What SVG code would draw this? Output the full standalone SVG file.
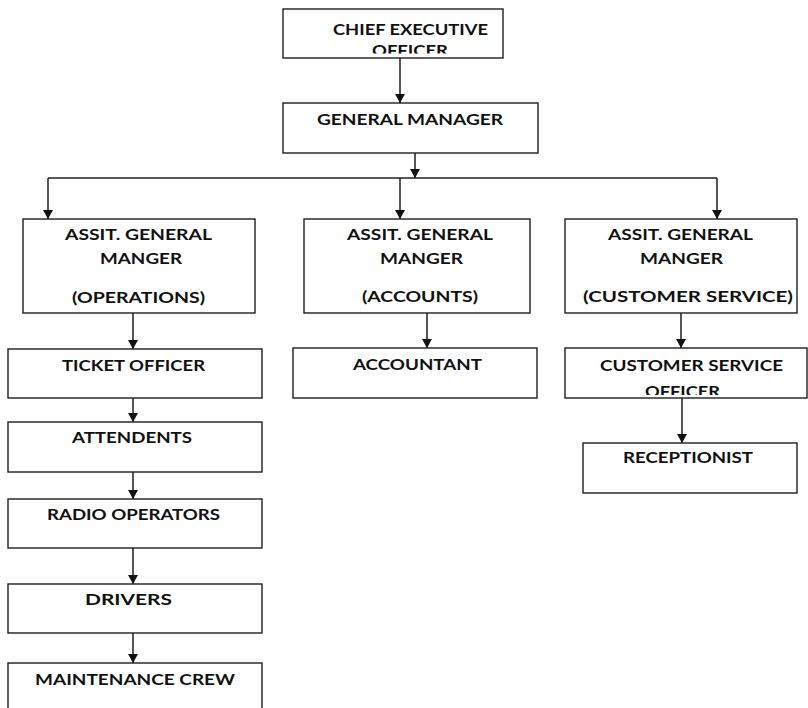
<svg xmlns="http://www.w3.org/2000/svg" width="808" height="708" viewBox="0 0 808 708">
  <style>
    .box { fill: #ffffff; stroke: #1e1e1e; stroke-width: 1.4; }
    .lbl { font-family: Lato, "Open Sans", "Liberation Sans", sans-serif; font-weight: bold; font-size: 16px; fill: #111111; }
    .wire { fill: none; stroke: #1e1e1e; stroke-width: 1.5; }
  </style>
  <defs>
    <marker id="arrow" markerUnits="userSpaceOnUse" markerWidth="11" markerHeight="11" refX="9" refY="5" orient="auto">
      <path d="M0,0 L9,5 L0,10 z" fill="#111111"/>
    </marker>
    <clipPath id="clip-ceo"><rect x="283" y="9" width="220" height="44.5"/></clipPath>
    <clipPath id="clip-cso"><rect x="565" y="348" width="243" height="47"/></clipPath>
  </defs>
  <rect width="808" height="708" fill="#ffffff"/>

  <g id="connectors">
    <line class="wire" x1="400" y1="58" x2="400" y2="103" marker-end="url(#arrow)"/>
    <line class="wire" x1="415" y1="153" x2="415" y2="178" marker-end="url(#arrow)"/>
    <line class="wire" x1="48" y1="178" x2="717" y2="178"/>
    <line class="wire" x1="48" y1="178" x2="48" y2="219" marker-end="url(#arrow)"/>
    <line class="wire" x1="400" y1="178" x2="400" y2="219" marker-end="url(#arrow)"/>
    <line class="wire" x1="717" y1="178" x2="717" y2="219" marker-end="url(#arrow)"/>
    <line class="wire" x1="133" y1="313" x2="133" y2="349" marker-end="url(#arrow)"/>
    <line class="wire" x1="133" y1="395" x2="133" y2="422" marker-end="url(#arrow)"/>
    <line class="wire" x1="133" y1="472" x2="133" y2="499" marker-end="url(#arrow)"/>
    <line class="wire" x1="133" y1="548" x2="133" y2="584" marker-end="url(#arrow)"/>
    <line class="wire" x1="133" y1="633" x2="133" y2="663" marker-end="url(#arrow)"/>
    <line class="wire" x1="427" y1="313" x2="427" y2="348" marker-end="url(#arrow)"/>
    <line class="wire" x1="681" y1="313" x2="681" y2="348" marker-end="url(#arrow)"/>
    <line class="wire" x1="682" y1="398" x2="682" y2="443" marker-end="url(#arrow)"/>
  </g>

  <g id="ceo">
    <rect class="box" x="283" y="9" width="220" height="49"/>
    <g clip-path="url(#clip-ceo)">
      <text class="lbl" x="333" y="35" textLength="155" lengthAdjust="spacingAndGlyphs">CHIEF EXECUTIVE</text>
      <text class="lbl" x="372" y="55.5" textLength="76" lengthAdjust="spacingAndGlyphs">OFFICER</text>
    </g>
  </g>

  <g id="general-manager">
    <rect class="box" x="283" y="103" width="255" height="50"/>
    <text class="lbl" x="317" y="125" textLength="186" lengthAdjust="spacingAndGlyphs">GENERAL MANAGER</text>
  </g>

  <g id="agm-operations">
    <rect class="box" x="23" y="219" width="232" height="94"/>
    <text class="lbl" x="65" y="240" textLength="147" lengthAdjust="spacingAndGlyphs">ASSIT. GENERAL</text>
    <text class="lbl" x="100" y="264" textLength="82" lengthAdjust="spacingAndGlyphs">MANGER</text>
    <text class="lbl" x="72" y="303" textLength="133" lengthAdjust="spacingAndGlyphs">(OPERATIONS)</text>
  </g>

  <g id="agm-accounts">
    <rect class="box" x="304" y="219" width="226" height="94"/>
    <text class="lbl" x="347" y="240" textLength="146" lengthAdjust="spacingAndGlyphs">ASSIT. GENERAL</text>
    <text class="lbl" x="380" y="264" textLength="83" lengthAdjust="spacingAndGlyphs">MANGER</text>
    <text class="lbl" x="362" y="302" textLength="116" lengthAdjust="spacingAndGlyphs">(ACCOUNTS)</text>
  </g>

  <g id="agm-customer-service">
    <rect class="box" x="565" y="219" width="232" height="94"/>
    <text class="lbl" x="608" y="240" textLength="145" lengthAdjust="spacingAndGlyphs">ASSIT. GENERAL</text>
    <text class="lbl" x="640" y="264" textLength="83" lengthAdjust="spacingAndGlyphs">MANGER</text>
    <text class="lbl" x="583" y="302" textLength="210" lengthAdjust="spacingAndGlyphs">(CUSTOMER SERVICE)</text>
  </g>

  <g id="ticket-officer">
    <rect class="box" x="8" y="349" width="254" height="49"/>
    <text class="lbl" x="62" y="371" textLength="143" lengthAdjust="spacingAndGlyphs">TICKET OFFICER</text>
  </g>

  <g id="attendents">
    <rect class="box" x="8" y="422" width="254" height="50"/>
    <text class="lbl" x="72" y="443" textLength="120" lengthAdjust="spacingAndGlyphs">ATTENDENTS</text>
  </g>

  <g id="radio-operators">
    <rect class="box" x="8" y="499" width="254" height="49"/>
    <text class="lbl" x="47" y="520" textLength="173" lengthAdjust="spacingAndGlyphs">RADIO OPERATORS</text>
  </g>

  <g id="drivers">
    <rect class="box" x="8" y="584" width="254" height="49"/>
    <text class="lbl" x="85" y="605" textLength="87" lengthAdjust="spacingAndGlyphs">DRIVERS</text>
  </g>

  <g id="maintenance-crew">
    <rect class="box" x="8" y="663" width="254" height="60"/>
    <text class="lbl" x="35" y="685" textLength="200" lengthAdjust="spacingAndGlyphs">MAINTENANCE CREW</text>
  </g>

  <g id="accountant">
    <rect class="box" x="293" y="348" width="244" height="50"/>
    <text class="lbl" x="353" y="370" textLength="129" lengthAdjust="spacingAndGlyphs">ACCOUNTANT</text>
  </g>

  <g id="customer-service-officer">
    <rect class="box" x="565" y="348" width="242" height="50"/>
    <g clip-path="url(#clip-cso)">
      <text class="lbl" x="600" y="371" textLength="183" lengthAdjust="spacingAndGlyphs">CUSTOMER SERVICE</text>
      <text class="lbl" x="645" y="396.5" textLength="75" lengthAdjust="spacingAndGlyphs">OFFICER</text>
    </g>
  </g>

  <g id="receptionist">
    <rect class="box" x="583" y="443" width="214" height="50"/>
    <text class="lbl" x="623" y="463" textLength="130" lengthAdjust="spacingAndGlyphs">RECEPTIONIST</text>
  </g>
</svg>
